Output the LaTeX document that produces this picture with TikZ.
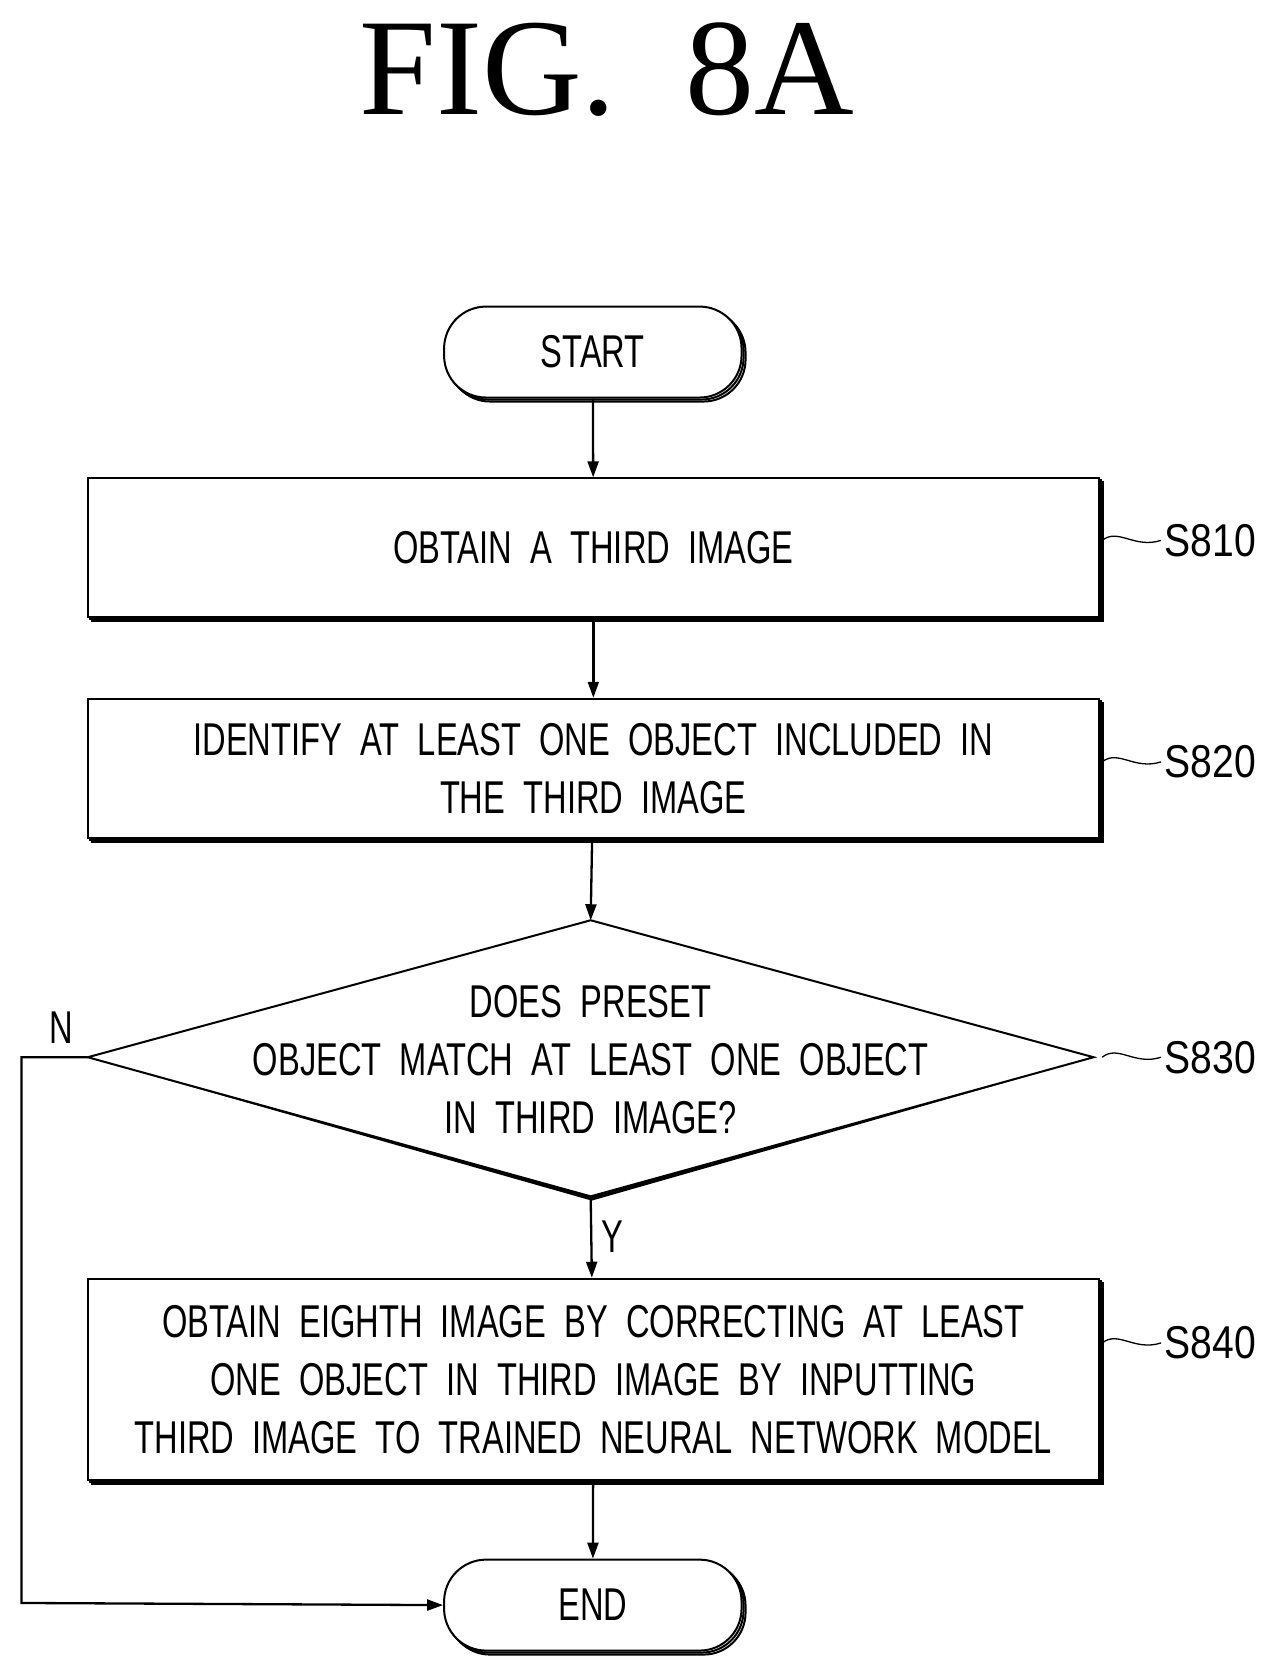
\documentclass[tikz,border=0pt]{standalone}
\usepackage{fontspec}
\setmainfont{Liberation Serif}
\newfontfamily\cond[FakeStretch=0.71]{Liberation Sans}
\usetikzlibrary{arrows.meta,shapes.geometric,shadows}
\begin{document}
\begin{tikzpicture}[x=1.07pt,y=-1.07pt,
  box/.style={draw,line width=2pt,fill=white,inner sep=0pt,align=center,font=\cond\fontsize{46}{58}\selectfont,
    double copy shadow={shadow xshift=2pt,shadow yshift=-2pt,draw,line width=2pt}},
  arr/.style={line width=2.3pt,-{Triangle[length=16pt,width=11pt]}},
  lab/.style={font=\cond\fontsize{46}{58}\selectfont}]
\useasboundingbox (0,0) rectangle (1195,1570);
\node[font=\fontsize{138}{140}\selectfont] (title) at (567,65) {FIG.\ \ 8A};
\node[box,rounded corners=42pt,minimum width=278*1.07pt,minimum height=85*1.07pt] (start) at (554,329) {START};
\node[box,minimum width=945*1.07pt,minimum height=130*1.07pt] (s810) at (554.5,512) {OBTAIN\ \ A\ \ THIRD\ \ IMAGE};
\node[box,minimum width=945*1.07pt,minimum height=130*1.07pt] (s820) at (554.5,718) {IDENTIFY\ \ AT\ \ LEAST\ \ ONE\ \ OBJECT\ \ INCLUDED\ \ IN\\THE\ \ THIRD\ \ IMAGE};
\coordinate (dt) at (552,860); \coordinate (db) at (552,1118);
\coordinate (dl) at (82,988); \coordinate (dr) at (1022,988);
\fill (dt)++(0,4) -- (dr) ++(0,0) -- (553,1122) -- (dl) -- cycle;
\draw[line width=2pt,fill=white] (dt) -- (dr) -- (db) -- (dl) -- cycle;
\node[lab,align=center] (s830) at (552,990) {DOES\ \ PRESET\\OBJECT\ \ MATCH\ \ AT\ \ LEAST\ \ ONE\ \ OBJECT\\IN\ \ THIRD\ \ IMAGE?};
\node[box,minimum width=945*1.07pt,minimum height=188*1.07pt] (s840) at (554.5,1289) {OBTAIN\ \ EIGHTH\ \ IMAGE\ \ BY\ \ CORRECTING\ \ AT\ \ LEAST\\ONE\ \ OBJECT\ \ IN\ \ THIRD\ \ IMAGE\ \ BY\ \ INPUTTING\\THIRD\ \ IMAGE\ \ TO\ \ TRAINED\ \ NEURAL\ \ NETWORK\ \ MODEL};
\node[box,rounded corners=42pt,minimum width=278*1.07pt,minimum height=85*1.07pt] (end) at (554,1500) {END};
\draw[arr] (start) -- (s810);
\draw[arr] (s810) -- (s820);
\draw[arr] (s820) -- (dt);
\draw[arr] (db) -- (s840) node[lab,pos=0.5,right=6pt] {Y};
\draw[arr] (s840) -- (end);
\draw[arr] (dl) -- (20,988) -- (20,1498) -- (end.west);
\node[lab] (n) at (57,960) {N};
\foreach \n/\y/\t in {a/505/S810,b/712/S820,c/988/S830,d/1255/S840}{
  \node[lab,anchor=west] (l\n) at (1085,\y) {\fontspec{Liberation Sans}[FakeStretch=0.85]\t};
  \draw[line width=1.3pt] (1030,\y) .. controls (1045,\y-12) and (1060,\y+8) .. (l\n.west);
}
\end{tikzpicture}
\end{document}
